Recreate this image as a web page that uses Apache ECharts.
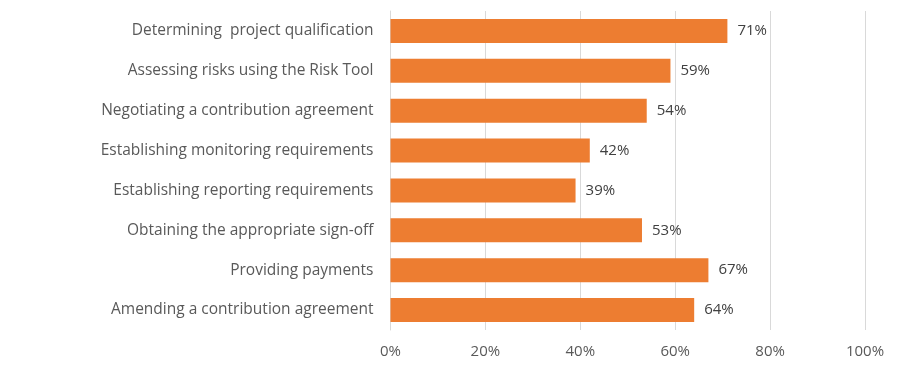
<!DOCTYPE html>
<html>
<head>
<meta charset="utf-8">
<script src="https://cdn.jsdelivr.net/npm/echarts@6/dist/echarts.min.js"></script>
<style>
html,body{margin:0;padding:0;background:#fff;}
#chart{width:919px;height:376px;}
</style>
</head>
<body>
<div id="chart"></div>
<script>
const categories = [
  "Determining  project qualification",
  "Assessing risks using the Risk Tool",
  "Negotiating a contribution agreement",
  "Establishing monitoring requirements",
  "Establishing reporting requirements",
  "Obtaining the appropriate sign-off",
  "Providing payments",
  "Amending a contribution agreement"
];
const values = [71, 59, 54, 42, 39, 53, 67, 64];
const tickMax = 100;
const tickStep = 20;

const chart = echarts.init(document.getElementById('chart'));
const font = "'Open Sans', 'Liberation Sans', sans-serif";
chart.setOption({
  animation: false,
  grid: {left: 390.5, right: 54, top: 11, bottom: 46, containLabel: false},
  xAxis: {
    type: 'value', min: 0, max: tickMax, interval: tickStep,
    axisLabel: {formatter: v => v + '%', color: '#595959', fontFamily: font, fontSize: 15, margin: 14},
    splitLine: {lineStyle: {color: '#D9D9D9', width: 1}},
    axisLine: {show: false}, axisTick: {show: false}
  },
  yAxis: {
    type: 'category', data: categories, inverse: true,
    axisLabel: {color: '#595959', fontFamily: font, fontSize: 15.5, margin: 17},
    axisLine: {show: true, lineStyle: {color: '#D9D9D9', width: 1}},
    axisTick: {show: false}
  },
  series: [{
    type: 'bar', data: values, barWidth: 24,
    itemStyle: {color: '#ED7D31'},
    label: {show: true, position: 'right', distance: 10, formatter: p => p.value + '%', color: '#404040', fontFamily: font, fontSize: 15}
  }]
});
</script>
</body>
</html>
